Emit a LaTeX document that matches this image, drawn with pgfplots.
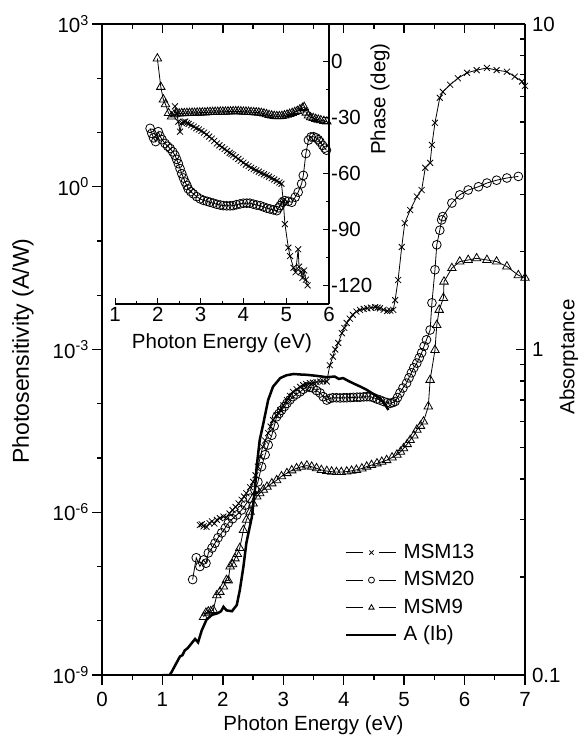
\documentclass[border=0pt]{standalone}
\usepackage{fontspec}
\setmainfont{Liberation Sans}
\usepackage{pgfplots}
\pgfplotsset{compat=1.18}
\begin{document}
\fontsize{20.5}{24}\selectfont
\begin{tikzpicture}
\path[use as bounding box] (0,0) rectangle (578pt,739pt);
\pgfplotsset{
  every axis/.append style={font=\fontsize{20.5}{24}\selectfont},
  ser/.style={black, line width=0.8pt, mark options={solid, line width=0.8pt, fill=white}},
  s13/.style={ser, mark=x, mark size=4.2pt},
  s20/.style={ser, mark=o, mark size=4.4pt},
  s9/.style={ser, mark=triangle, mark size=4.9pt},
  msmleg/.style={legend image code/.code={
      \draw[##1, mark=none] (0pt,0pt) -- (17pt,0pt);
      \draw[##1, mark=none] (33pt,0pt) -- (50pt,0pt);
      \draw[##1, mark size=3pt] plot coordinates {(25pt,0pt)};}},
  aleg/.style={legend image code/.code={\draw[##1] (0pt,0pt) -- (50pt,0pt);}},
}
% ---------------- main axis (left, photosensitivity) ----------------
\begin{axis}[
  at={(102pt,64pt)}, anchor=south west, scale only axis,
  width=423pt, height=651pt,
  xmin=0, xmax=7, ymode=log, ymin=1e-9, ymax=1e3,
  axis x line*=bottom, axis y line*=left,
  axis line style={line width=1.6pt},
  tick align=outside, major tick length=10pt, minor tick length=5pt,
  every tick/.style={black, line width=1.3pt},
  xtick={0,1,2,3,4,5,6,7}, xticklabels={0,1,2,3,4,5,6,7}, minor x tick num=1,
  ytick={1e-9,1e-6,1e-3,1,1e3},
  yticklabels={10\textsuperscript{-9},10\textsuperscript{-6},10\textsuperscript{-3},10\textsuperscript{0},10\textsuperscript{3}},
  minor ytick={1e-8,1e-7,1e-5,1e-4,1e-2,1e-1,1e1,1e2},
  yticklabel style={inner sep=3pt},
]
\addplot[s13] coordinates {
(1.62,5.82e-7)(1.65,6.0e-7)(1.68,5.5e-7)(1.73,5.37e-7)(1.78,6.3e-7)(1.82,6.8e-7)(1.86,6.2e-7)(1.90,7.24e-7)(1.95,7.8e-7)(2.01,8.32e-7)(2.06,8.0e-7)(2.11,9.5e-7)(2.16,1.1e-6)(2.21,1.25e-6)(2.26,1.45e-6)(2.31,1.70e-6)(2.35,1.95e-6)(2.39,2.24e-6)(2.45,2.9e-6)(2.50,3.63e-6)(2.54,4.8e-6)(2.58,6.92e-6)(2.62,1.05e-5)(2.66,1.62e-5)(2.70,2.1e-5)(2.75,2.88e-5)(2.79,3.8e-5)(2.83,5.01e-5)(2.89,6.2e-5)(2.95,7.59e-5)(3.00,9.3e-5)(3.06,1.17e-4)(3.11,1.4e-4)(3.16,1.66e-4)(3.22,1.85e-4)(3.28,2.04e-4)(3.33,2.2e-4)(3.38,2.3e-4)(3.44,2.40e-4)(3.49,2.45e-4)(3.55,2.5e-4)(3.61,2.57e-4)(3.66,2.6e-4)(3.72,2.57e-4)(3.77,5.13e-4)(3.82,7.41e-4)(3.86,1.0e-3)(3.91,1.32e-3)(3.97,2.00e-3)(4.01,2.5e-3)(4.05,3.09e-3)(4.10,3.7e-3)(4.15,4.37e-3)(4.21,5.0e-3)(4.27,5.37e-3)(4.33,5.6e-3)(4.39,5.75e-3)(4.45,5.9e-3)(4.52,6.03e-3)(4.56,5.9e-3)(4.60,5.75e-3)(4.66,5.4e-3)(4.72,5.13e-3)(4.77,5.2e-3)(4.82,5.37e-3)(4.85,8.13e-3)(4.90,1.91e-2)(4.96,7.76e-2)(5.01,0.214)(5.10,0.372)(5.21,0.661)(5.29,0.871)(5.35,2.24)(5.43,2.75)(5.46,5.89)(5.51,15.1)(5.59,43.7)(5.64,56.2)(5.76,75.9)(5.89,100)(6.04,126)(6.20,141)(6.37,155)(6.53,141)(6.70,132)(6.83,107)(6.95,87.1)(7.00,72.4)
};
\addplot[s20] coordinates {
(1.50,5.75e-8)(1.56,1.45e-7)(1.62,1.00e-7)(1.68,1.32e-7)(1.72,1.15e-7)(1.76,1.78e-7)(1.82,2.19e-7)(1.87,2.69e-7)(1.92,3.39e-7)(1.98,4.17e-7)(2.04,5.13e-7)(2.09,6.31e-7)(2.16,7.59e-7)(2.23,8.91e-7)(2.31,1.10e-6)(2.37,1.35e-6)(2.45,1.82e-6)(2.53,2.57e-6)(2.58,3.63e-6)(2.64,6.92e-6)(2.70,1.15e-5)(2.75,1.74e-5)(2.81,2.63e-5)(2.85,3.9e-5)(2.89,5.75e-5)(2.93,6.6e-5)(2.97,7.59e-5)(3.02,8.9e-5)(3.06,1.02e-4)(3.11,1.18e-4)(3.16,1.35e-4)(3.22,1.5e-4)(3.28,1.66e-4)(3.33,1.85e-4)(3.39,2.04e-4)(3.44,2.0e-4)(3.49,1.95e-4)(3.55,1.75e-4)(3.61,1.58e-4)(3.66,1.35e-4)(3.72,1.17e-4)(3.77,1.25e-4)(3.82,1.29e-4)(3.88,1.29e-4)(3.94,1.28e-4)(4.00,1.29e-4)(4.05,1.29e-4)(4.11,1.30e-4)(4.16,1.31e-4)(4.22,1.32e-4)(4.27,1.32e-4)(4.33,1.34e-4)(4.38,1.35e-4)(4.43,1.35e-4)(4.49,1.3e-4)(4.55,1.22e-4)(4.60,1.17e-4)(4.66,1.1e-4)(4.72,1.05e-4)(4.77,1.02e-4)(4.81,1.05e-4)(4.85,1.10e-4)(4.89,1.3e-4)(4.93,1.58e-4)(4.98,1.95e-4)(5.04,2.40e-4)(5.08,3.0e-4)(5.12,3.72e-4)(5.16,4.6e-4)(5.21,5.62e-4)(5.25,7.0e-4)(5.29,8.71e-4)(5.33,1.15e-3)(5.37,1.51e-3)(5.43,2.29e-3)(5.46,7.24e-3)(5.51,2.95e-2)(5.54,8.51e-2)(5.59,0.158)(5.62,0.245)(5.64,0.282)(5.79,0.501)(5.92,0.708)(6.06,0.871)(6.23,1.00)(6.37,1.17)(6.53,1.32)(6.70,1.45)(6.89,1.55)
};
\addplot[s9] coordinates {
(1.68,1.17e-8)(1.72,1.4e-8)(1.76,1.48e-8)(1.80,1.5e-8)(1.84,1.58e-8)(1.90,2.95e-8)(1.95,3.4e-8)(2.01,4.27e-8)(2.06,5.62e-8)(2.09,5.5e-8)(2.12,1.00e-7)(2.16,1.1e-7)(2.20,1.41e-7)(2.24,1.7e-7)(2.28,2.19e-7)(2.34,4.68e-7)(2.39,7.24e-7)(2.45,1.02e-6)(2.50,1.45e-6)(2.56,1.95e-6)(2.61,2.24e-6)(2.67,2.6e-6)(2.73,2.95e-6)(2.81,3.4e-6)(2.89,3.89e-6)(2.97,4.6e-6)(3.06,5.25e-6)(3.14,5.9e-6)(3.22,6.46e-6)(3.30,6.9e-6)(3.39,7.24e-6)(3.47,6.9e-6)(3.55,6.46e-6)(3.63,6.0e-6)(3.72,5.75e-6)(3.80,5.6e-6)(3.88,5.50e-6)(3.96,5.5e-6)(4.05,5.62e-6)(4.13,5.8e-6)(4.21,6.03e-6)(4.30,6.4e-6)(4.38,6.92e-6)(4.46,7.4e-6)(4.55,7.94e-6)(4.63,8.5e-6)(4.71,9.12e-6)(4.80,1.02e-5)(4.88,1.15e-5)(4.94,1.3e-5)(4.99,1.51e-5)(5.05,1.8e-5)(5.10,2.14e-5)(5.16,2.6e-5)(5.21,3.31e-5)(5.27,3.9e-5)(5.32,4.68e-5)(5.40,8.91e-5)(5.43,2.75e-4)(5.51,9.77e-4)(5.54,2.82e-3)(5.58,5.37e-3)(5.65,8.91e-3)(5.66,1.78e-2)(5.79,3.16e-2)(5.92,4.17e-2)(6.06,4.47e-2)(6.20,4.79e-2)(6.37,4.47e-2)(6.53,4.17e-2)(6.70,3.39e-2)(6.89,2.34e-2)(7.00,2.09e-2)
};
\end{axis}
% ---------------- right axis (absorptance) ----------------
\begin{axis}[
  at={(102pt,64pt)}, anchor=south west, scale only axis,
  width=423pt, height=651pt,
  xmin=0, xmax=7, ymode=log, ymin=0.1, ymax=10,
  axis x line*=top, axis y line*=right,
  axis line style={line width=1.6pt},
  tick align=inside, major tick length=9pt, minor tick length=5pt,
  every tick/.style={black, line width=1.3pt},
  xtick={0,1,2,3,4,5,6,7}, xticklabels={}, minor x tick num=1,
  ytick={0.1,1,10}, yticklabels={0.1,1,10},
  minor ytick={0.2,0.3,0.4,0.5,0.6,0.7,0.8,0.9,2,3,4,5,6,7,8,9},
  legend style={at={(0.5745,0.206)}, anchor=north west, draw=none, fill=none,
    inner sep=0pt, row sep=4.5pt, font=\fontsize{20.5}{24}\selectfont,
    nodes={text height=15pt, text depth=4pt, inner sep=2pt},
    /tikz/every odd column/.append style={column sep=4pt}},
  legend cell align=left,
]
\addlegendimage{s13, msmleg}
\addlegendentry{MSM13}
\addlegendimage{s20, msmleg}
\addlegendentry{MSM20}
\addlegendimage{s9, msmleg}
\addlegendentry{MSM9}
\addplot[black, line width=2.5pt, mark=none, aleg] coordinates {
(1.00,0.100)(1.12,0.100)(1.15,0.102)(1.21,0.107)(1.29,0.114)(1.33,0.115)(1.37,0.119)(1.42,0.121)(1.48,0.125)(1.54,0.129)(1.59,0.126)(1.65,0.137)(1.73,0.148)(1.82,0.153)(1.92,0.155)(1.97,0.157)(2.01,0.162)(2.06,0.158)(2.15,0.157)(2.23,0.164)(2.28,0.182)(2.34,0.215)(2.39,0.255)(2.48,0.306)(2.53,0.37)(2.56,0.437)(2.61,0.527)(2.67,0.593)(2.75,0.700)(2.83,0.769)(2.95,0.817)(3.05,0.833)(3.17,0.841)(3.28,0.838)(3.39,0.836)(3.55,0.830)(3.72,0.822)(3.85,0.826)(3.92,0.812)(3.99,0.817)(4.08,0.800)(4.16,0.787)(4.27,0.770)(4.38,0.752)(4.49,0.730)(4.60,0.708)(4.68,0.680)(4.74,0.652)
};
\addlegendentry{A (Ib)}
\end{axis}
% ---------------- inset (phase) ----------------
\begin{axis}[
  at={(115pt,435pt)}, anchor=south west, scale only axis,
  width=214pt, height=280pt,
  xmin=1, xmax=6, ymin=-130, ymax=20,
  axis x line*=bottom, axis y line*=right,
  axis line style={line width=1.2pt},
  tick align=inside, major tick length=6pt, minor tick length=3pt,
  every tick/.style={black, line width=1pt},
  xtick={1,2,3,4,5,6}, xticklabels={1,2,3,4,5,6}, minor x tick num=1,
  ytick={-120,-90,-60,-30,0}, yticklabels={-120,-90,-60,-30,0}, minor y tick num=1,
  yticklabel style={inner sep=2pt},
  xticklabel style={inner sep=3pt},
]
\addplot[s9] coordinates {
(1.99,1.5)(2.07,-13.7)(2.13,-20.5)(2.18,-23)(2.25,-27.7)(2.32,-29.6)(2.38,-28.5)(2.44,-28)(2.50,-28)(2.56,-27.8)(2.62,-27.8)(2.68,-27.7)(2.74,-27.7)(2.80,-27.6)(2.86,-27.6)(2.92,-27.5)(2.98,-27.5)(3.04,-27.4)(3.10,-27.4)(3.16,-27.3)(3.22,-27.2)(3.28,-27.2)(3.34,-27.1)(3.40,-27.1)(3.46,-27)(3.52,-27)(3.58,-27)(3.64,-26.9)(3.70,-26.9)(3.76,-26.8)(3.82,-26.8)(3.88,-26.8)(3.94,-26.9)(4.00,-27)(4.06,-27)(4.12,-27.1)(4.18,-27.2)(4.24,-27.3)(4.30,-27.4)(4.36,-27.5)(4.42,-27.7)(4.48,-28)(4.54,-28.4)(4.60,-28.8)(4.66,-29.1)(4.72,-29.3)(4.78,-29.4)(4.84,-29.4)(4.90,-29.3)(4.96,-29)(5.02,-28.6)(5.08,-28.2)(5.14,-27.7)(5.20,-27.2)(5.26,-26.6)(5.32,-25.8)(5.38,-25)(5.42,-24.5)(5.47,-27.5)(5.52,-29)(5.57,-30)(5.63,-30.4)(5.69,-30.9)(5.75,-31.3)(5.81,-31.6)(5.88,-32)(5.95,-32.3)
};
\addplot[s13] coordinates {
(2.40,-24.1)(2.44,-28)(2.48,-32.3)(2.52,-37.7)(2.56,-33)(2.60,-32.5)(2.64,-32.3)(2.68,-33)(2.72,-33.5)(2.78,-34.2)(2.84,-35)(2.90,-35.8)(2.96,-36.5)(3.02,-37.3)(3.08,-38.2)(3.14,-39.2)(3.20,-40.3)(3.26,-41.4)(3.32,-42.6)(3.38,-44)(3.44,-45)(3.50,-46)(3.56,-47)(3.62,-48)(3.68,-49)(3.72,-49.6)(3.76,-50.3)(3.82,-51.3)(3.88,-52.3)(3.94,-53.3)(4.00,-54.3)(4.06,-55.3)(4.12,-56.1)(4.18,-57)(4.24,-57.8)(4.30,-58.4)(4.36,-59.1)(4.42,-59.8)(4.48,-60.5)(4.54,-61.1)(4.60,-61.8)(4.66,-62.6)(4.72,-63.3)(4.78,-64.1)(4.84,-64.9)(4.89,-65.6)(4.93,-74.6)(4.97,-87.2)(5.05,-99.8)(5.09,-104.3)(5.17,-110.6)(5.22,-113)(5.28,-100.7)(5.30,-110)(5.34,-113)(5.38,-116)(5.42,-112)(5.46,-117)(5.50,-120)
};
\addplot[s20] coordinates {
(1.82,-35.9)(1.86,-38.6)(1.90,-41)(1.95,-43)(2.01,-37.7)(2.05,-40)(2.10,-42)(2.17,-44)(2.23,-45.5)(2.29,-46.7)(2.35,-48.5)(2.40,-50.3)(2.44,-52.5)(2.48,-54.8)(2.52,-57.5)(2.56,-60.2)(2.60,-62.5)(2.64,-64.7)(2.68,-66.5)(2.71,-68.3)(2.77,-69.8)(2.83,-71)(2.91,-72.5)(2.99,-73.7)(3.07,-74.5)(3.15,-75)(3.22,-75.5)(3.30,-76)(3.38,-76.6)(3.46,-77)(3.53,-77.3)(3.61,-77.4)(3.69,-77.4)(3.76,-77.3)(3.84,-76.8)(3.92,-76.4)(4.00,-76)(4.08,-76)(4.15,-76)(4.23,-76.5)(4.31,-77)(4.39,-77.3)(4.47,-78)(4.55,-78.7)(4.62,-79.1)(4.70,-79.6)(4.78,-80)(4.82,-78.5)(4.86,-77.3)(4.91,-75.5)(4.97,-74.6)(5.05,-75)(5.13,-75.5)(5.21,-72.8)(5.28,-70.1)(5.36,-65.6)(5.40,-61.1)(5.46,-49.4)(5.52,-42.2)(5.58,-40.5)(5.64,-40.4)(5.70,-41)(5.75,-42)(5.79,-43.1)(5.85,-45)(5.90,-46.5)(5.94,-47.6)
};
\end{axis}
% ---------------- axis titles ----------------
\node at (313.5pt,14pt) {Photon Energy (eV)};
\node[rotate=90, font=\fontsize{23}{27}\selectfont] at (23pt,388pt) {Photosensitivity (A/W)};
\node[rotate=90] at (569pt,382pt) {Absorptance};
\node at (222pt,396pt) {Photon Energy (eV)};
\node[rotate=90] at (380pt,640pt) {Phase (deg)};
\end{tikzpicture}
\end{document}
